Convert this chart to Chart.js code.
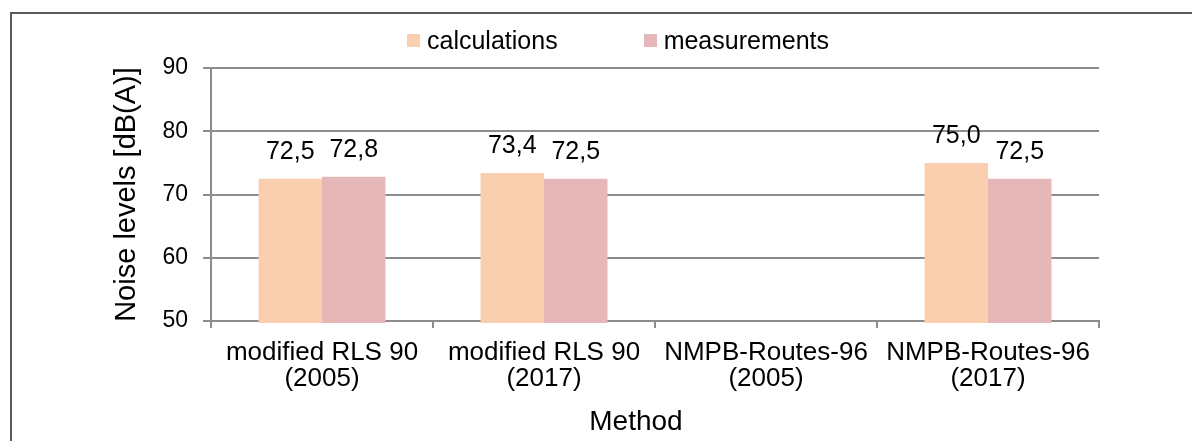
<!DOCTYPE html>
<html>
<head>
<meta charset="utf-8">
<script src="https://cdn.jsdelivr.net/npm/chart.js@4/dist/chart.umd.min.js"></script>
<style>
  body { margin: 0; background: #fff; font-family: 'Liberation Sans', Arial, sans-serif; }
  #wrap { position: relative; width: 1192px; height: 441px; overflow: hidden; }
  #frame { position: absolute; left: 10px; top: 12px; width: 1300px; height: 500px;
           border-left: 2px solid #5a5a5a; border-top: 2px solid #5a5a5a; box-sizing: border-box; }
  #legend { position: absolute; left: 407px; top: 27px; display: flex; gap: 86px;
            font-size: 25px; line-height: 26px; color: #000; }
  #legend .item { display: flex; align-items: center; }
  #legend .box { width: 13px; height: 13px; margin-right: 7px; }
  #xtitle { position: absolute; left: 536px; width: 200px; top: 404px; text-align: center;
            font-size: 28px; line-height: 34px; color: #000; }
  canvas { position: absolute; left: 0; top: 0; }
</style>
</head>
<body>
<div id="wrap">
  <div id="frame"></div>
  <canvas id="chart" width="1192" height="441"></canvas>
  <div id="legend"></div>
  <div id="xtitle"></div>
</div>
<script>
  const categories = [
    ['modified RLS 90', '(2005)'],
    ['modified RLS 90', '(2017)'],
    ['NMPB-Routes-96', '(2005)'],
    ['NMPB-Routes-96', '(2017)']
  ];
  const calculations = [72.5, 73.4, 0, 75.0];
  const measurements = [72.8, 72.5, 0, 72.5];
  const seriesNames = ['calculations', 'measurements'];
  const seriesColors = ['#facfb0', '#e6b7b8'];
  const yTicks = [50, 60, 70, 80, 90];
  const xTitle = 'Method';
  const yTitle = 'Noise levels [dB(A)]';

  const FONT = "'Liberation Sans', Arial, sans-serif";
  const GRID = '#8c8c8c';

  const legend = document.getElementById('legend');
  seriesNames.forEach((name, i) => {
    const item = document.createElement('div');
    item.className = 'item';
    const box = document.createElement('span');
    box.className = 'box';
    box.style.background = seriesColors[i];
    const label = document.createElement('span');
    label.textContent = name;
    item.append(box, label);
    legend.appendChild(item);
  });
  document.getElementById('xtitle').textContent = xTitle;

  const valueLabels = {
    id: 'valueLabels',
    afterDatasetsDraw(chart) {
      const ctx = chart.ctx;
      const min = chart.scales.y.min;
      ctx.save();
      ctx.font = '25px ' + FONT;
      ctx.fillStyle = '#000';
      ctx.textAlign = 'center';
      ctx.textBaseline = 'alphabetic';
      chart.data.datasets.forEach((ds, di) => {
        chart.getDatasetMeta(di).data.forEach((bar, i) => {
          const v = ds.data[i];
          if (v == null || v < min) return;
          ctx.fillText(v.toFixed(1).replace('.', ','), bar.x, bar.y - 20);
        });
      });
      ctx.restore();
    }
  };

  new Chart(document.getElementById('chart'), {
    type: 'bar',
    data: {
      labels: categories,
      datasets: [
        { label: seriesNames[0], data: calculations, backgroundColor: seriesColors[0] },
        { label: seriesNames[1], data: measurements, backgroundColor: seriesColors[1] }
      ].map(d => Object.assign(d, {
        categoryPercentage: 0.572,
        barPercentage: 1.0,
        borderWidth: 0,
        clip: { left: 0, top: 0, right: 0, bottom: 2 }
      }))
    },
    options: {
      responsive: false,
      animation: false,
      events: [],
      layout: { padding: { left: 95, right: 93, top: 68, bottom: 0 } },
      plugins: { legend: { display: false }, tooltip: { enabled: false } },
      scales: {
        x: {
          z: 1,
          grid: { offset: true, drawOnChartArea: false, color: GRID, lineWidth: 2, tickLength: 7 },
          border: { color: GRID, width: 2 },
          ticks: { color: '#000', padding: 12, font: { family: FONT, size: 26, lineHeight: 1.0 } },
          afterFit(scale) { scale.height = 120; }
        },
        y: {
          min: 50,
          max: 90,
          afterBuildTicks(scale) { scale.ticks = yTicks.map(v => ({ value: v })); },
          grid: { color: GRID, lineWidth: 2, tickLength: 8 },
          border: { color: GRID, width: 2 },
          ticks: { color: '#000', padding: 15, font: { family: FONT, size: 23 } },
          title: {
            display: true, text: yTitle, color: '#000',
            font: { family: FONT, size: 29, lineHeight: 1.2 },
            padding: { top: 15, bottom: 0 }
          },
          afterFit(scale) { scale.width = 116; }
        }
      }
    },
    plugins: [valueLabels]
  });
</script>
</body>
</html>
